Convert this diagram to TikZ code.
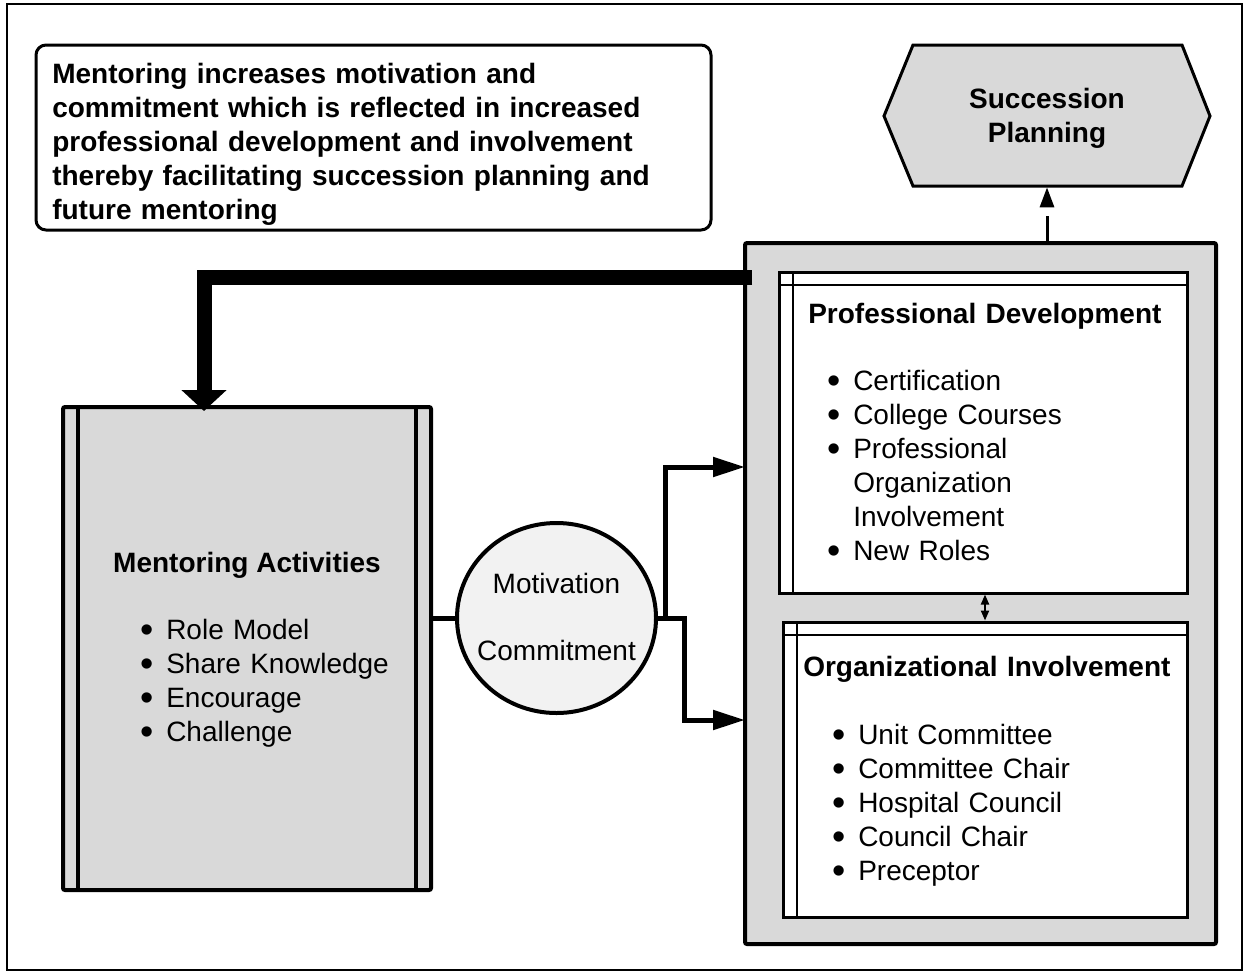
\documentclass[tikz,border=0pt]{standalone}
\usepackage{fontspec}
\setmainfont{Liberation Sans}
\usetikzlibrary{arrows.meta,shapes.geometric}
\definecolor{boxgray}{RGB}{217,217,217}
\definecolor{circgray}{RGB}{242,242,242}
\newcommand\fnt{\fontsize{21pt}{25.5pt}\selectfont}
\newcommand\bul{\makebox[18.75pt][l]{\hspace*{-0.5pt}\raisebox{-0.12em}{\scalebox{1.35}{\textbullet}}}}
\newcommand\ind{\hspace*{18.75pt}}
\begin{document}
\begin{tikzpicture}[x=0.75pt,y=-0.75pt,
  every node/.style={inner sep=0pt, font=\fnt},
  txt/.style={anchor=base west, text width=#1, align=left},
  conn/.style={line width=3.75pt, line join=miter},
  bigtip/.style={-{Triangle[length=24pt,width=14.25pt]}},
  innerline/.style={line width=1.6pt}]
\useasboundingbox (0,0) rectangle (1248,972);
\fill[white] (0,0) rectangle (1248,972);
\draw[line width=1.1pt] (7,4) rectangle (1242,970);

% note box
\node[draw, line width=2.25pt, rounded corners=7.5pt, minimum width=506.25pt, minimum height=138.75pt] (note) at (373.5,137.5) {};
\node[txt=500pt, font=\fnt\bfseries] (notetext) at (52,83) {Mentoring increases motivation and\\commitment which is reflected in increased\\professional development and involvement\\thereby facilitating succession planning and\\future mentoring};

% hexagon
\draw[line width=2.25pt, fill=boxgray, line join=miter] (884,116) -- (913,45) -- (1182,45) -- (1210,116) -- (1182,186) -- (913,186) -- cycle;
\coordinate (hexbot) at (1047,186);
\node[anchor=base, text width=240pt, align=center, font=\fnt\bfseries] (sp) at (1047,108) {Succession\\Planning};

% outer right box
\node[draw, fill=boxgray, line width=3pt, rounded corners=1.5pt, minimum width=353.25pt, minimum height=525.75pt] (outer) at (980.5,593.5) {};

% professional development
\node[draw, fill=white, line width=2.25pt, minimum width=306pt, minimum height=240.75pt] (pd) at (983,432.5) {};
\draw[innerline] (793,272) -- (793,593);
\draw[innerline] (779,285) -- (1187,285);
\node[txt=300pt, font=\fnt\bfseries] (pdtitle) at (808,323) {Professional Development};
\node[txt=300pt] (pdlist) at (828,390) {\bul Certification\\\bul College Courses\\\bul Professional\\\ind Organization\\\ind Involvement\\\bul New Roles};

% organizational involvement
\node[draw, fill=white, line width=2.25pt, minimum width=303pt, minimum height=221.25pt] (oi) at (985,769.5) {};
\draw[innerline] (797,622) -- (797,917);
\draw[innerline] (783,635) -- (1187,635);
\node[txt=300pt, font=\fnt\bfseries] (oititle) at (803,676) {Organizational Involvement};
\node[txt=300pt] (oilist) at (833,744) {\bul Unit Committee\\\bul Committee Chair\\\bul Hospital Council\\\bul Council Chair\\\bul Preceptor};

% mentoring activities
\node[draw, fill=boxgray, line width=3pt, rounded corners=1.5pt, minimum width=276pt, minimum height=362.25pt] (mentor) at (247,648.5) {};
\draw[line width=2.5pt] (78,407) -- (78,890);
\draw[line width=2.5pt] (416,407) -- (416,890);
\node[anchor=base, font=\fnt\bfseries] (mtitle) at (247,572) {Mentoring Activities};
\node[txt=250pt] (mlist) at (141,639) {\bul Role Model\\\bul Share Knowledge\\\bul Encourage\\\bul Challenge};

% motivation circle
\node[ellipse, draw, fill=circgray, line width=3pt, minimum width=149.25pt, minimum height=142.5pt] (mc) at (556.5,618) {};
\node[anchor=base, text width=150pt, align=center] (mctext) at (556.5,593) {Motivation\\[24.75pt]Commitment};

% connectors
\coordinate (pdin) at (745,467);
\coordinate (oiin) at (745,720);
\coordinate (fb) at (752,277);
\coordinate (fbend) at (204,411);
\draw[conn] (mentor.east |- mc.west) -- (mc.west);
\draw[conn, bigtip] ([xshift=5.25pt]mc.east) |- (pdin);
\draw[conn, bigtip] (mc.east) -- ++(26,0) |- (oiin);
\draw[line width=11.25pt, line join=miter, -{Triangle[length=15.75pt,width=33pt]}] (fb) -| (fbend);
\draw[line width=1.5pt, {Triangle[length=7.5pt,width=6pt]}-{Triangle[length=7.5pt,width=6pt]}] (pd.south -| oi.north) -- (oi.north);
\draw[line width=2.25pt, dash pattern=on 18.75pt off 30pt, shorten >=1pt, -{Triangle[length=15pt,width=10.5pt]}] (hexbot |- outer.north) -- (hexbot);
\end{tikzpicture}
\end{document}
